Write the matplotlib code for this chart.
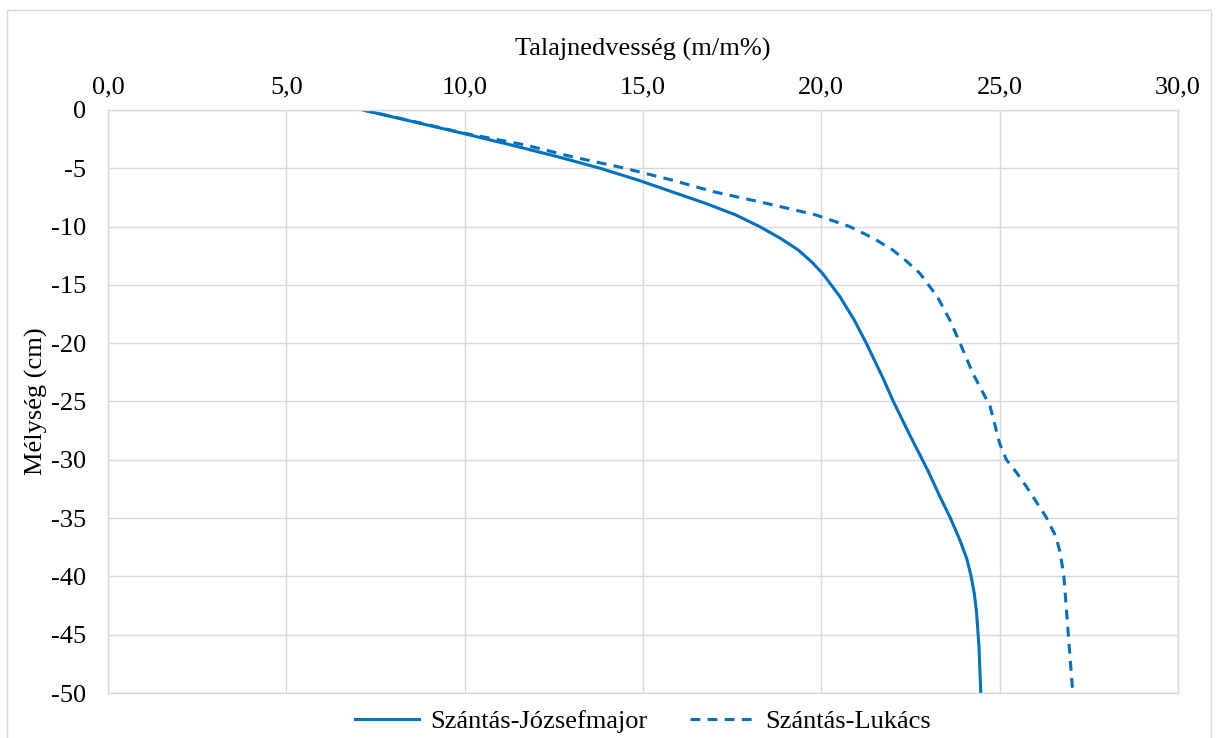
import matplotlib
matplotlib.use("Agg")
import matplotlib.pyplot as plt
from matplotlib.patches import Rectangle
from matplotlib.ticker import FixedLocator, FuncFormatter

plt.rcParams['font.family'] = ['Liberation Serif', 'DejaVu Serif']

# Data: soil moisture (m/m%) vs depth (cm)
depth_jozsef = [0, -1, -2, -3, -4, -5, -6, -7, -8, -9, -10, -11, -12, -13, -14,
                -16, -18, -20, -23, -25, -28, -31, -33, -35, -37, -38.5, -40, -41.5,
                -43, -46, -50]
moist_jozsef = [7.15, 8.55, 9.95, 11.3, 12.6, 13.8, 14.85, 15.8, 16.75, 17.6, 18.27,
                18.85, 19.35, 19.72, 20.03, 20.52, 20.92, 21.26, 21.73, 22.02, 22.5,
                23.0, 23.3, 23.62, 23.9, 24.08, 24.2, 24.29, 24.35, 24.42, 24.47]

depth_lukacs = [0, -1, -2, -3, -4, -5, -6, -7, -8, -9, -10, -11, -12, -13, -14,
                -16, -18, -20, -22.6, -25.4, -28.6, -30, -31, -32.3, -34.9, -36.6,
                -38, -40, -44, -50]
moist_lukacs = [7.15, 8.6, 10.0, 11.7, 13.0, 14.5, 15.8, 16.97, 18.45, 19.85, 20.8,
                21.46, 22.0, 22.4, 22.76, 23.25, 23.6, 23.89, 24.25, 24.73, 25.0,
                25.19, 25.45, 25.75, 26.3, 26.58, 26.7, 26.8, 26.9, 27.05]

series_names = ["Szántás-Józsefmajor", "Szántás-Lukács"]
x_ticks = [0, 5, 10, 15, 20, 25, 30]
y_ticks = [0, -5, -10, -15, -20, -25, -30, -35, -40, -45, -50]

W, H = 1217, 738
fig = plt.figure(figsize=(W / 100, H / 100), dpi=100)
fig.patch.set_facecolor('white')
fig.patches.append(Rectangle((7 / W, -0.02), 1204 / W, 1 - 10 / H + 0.02,
                             transform=fig.transFigure, fill=False,
                             edgecolor='#D9D9D9', lw=1.0))

ax = fig.add_axes([108 / W, 1 - 693 / H, (1178 - 108) / W, (693 - 110) / H])
color = '#0070C0'
ax.plot(moist_jozsef, depth_jozsef, color=color, lw=2.2, label=series_names[0],
        solid_joinstyle='round')
ax.plot(moist_lukacs, depth_lukacs, color=color, lw=2.2, linestyle=(0, (3.2, 2.4)),
        label=series_names[1])

ax.set_xlim(0, 30)
ax.set_ylim(-50, 0)
ax.xaxis.set_major_locator(FixedLocator(x_ticks))
ax.yaxis.set_major_locator(FixedLocator(y_ticks))
ax.xaxis.set_major_formatter(FuncFormatter(lambda v, p: f"{v:.1f}".replace('.', ',')))
ax.yaxis.set_major_formatter(FuncFormatter(lambda v, p: f"{int(round(v))}"))
ax.xaxis.tick_top()
ax.xaxis.set_label_position('top')
ax.tick_params(axis='both', length=0, labelsize=19, colors='black')
ax.tick_params(axis='x', pad=8)
ax.tick_params(axis='y', pad=16)
ax.grid(True, color='#D9D9D9', lw=1.0)
ax.set_axisbelow(True)
for s in ax.spines.values():
    s.set_color('#D9D9D9')
    s.set_linewidth(1.0)

ax.set_xlabel("Talajnedvesség (m/m%)", fontsize=19)
ax.set_ylabel("Mélység (cm)", fontsize=19)
ax.xaxis.set_label_coords(0.5, (693 - 56) / 583)
ax.yaxis.set_label_coords((48 - 108) / 1070, 0.5)

ax.legend(loc='center', bbox_to_anchor=(0.5, (693 - 721) / 583), ncol=2, frameon=False,
          fontsize=19, handlelength=2.4, columnspacing=1.6, handletextpad=0.45)

fig.savefig("out.png", dpi=100)
